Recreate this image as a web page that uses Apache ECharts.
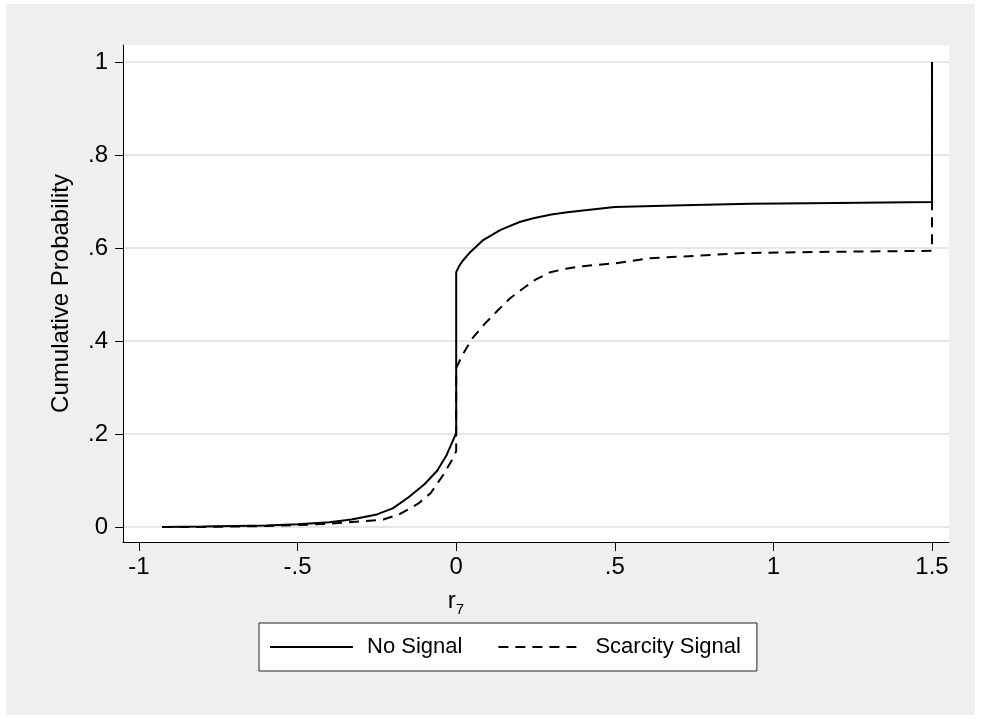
<!DOCTYPE html>
<html>
<head>
<meta charset="utf-8">
<script src="https://cdn.jsdelivr.net/npm/echarts@6/dist/echarts.min.js"></script>
<style>
  body { margin: 0; background: #ffffff; }
  #frame { position: absolute; left: 6px; top: 4px; width: 969px; height: 711px; background: #efefef; }
  #chart { position: absolute; left: 0; top: 0; width: 981px; height: 719px; }
</style>
</head>
<body>
<div id="frame"></div>
<div id="chart"></div>
<script>
// cumulative distribution
var noSignalX = [-0.927, -0.8, -0.7, -0.6, -0.5, -0.4, -0.33, -0.25, -0.2, -0.15, -0.1, -0.06, -0.03, 0, 0,
    0.01, 0.02, 0.044, 0.085, 0.14, 0.2, 0.243, 0.3, 0.35, 0.5, 0.716, 0.927, 1.2, 1.5, 1.5];
var noSignalY = [0, 0.001, 0.002, 0.003, 0.006, 0.01, 0.016, 0.027, 0.04, 0.064, 0.092, 0.121, 0.155, 0.202, 0.548,
    0.562, 0.572, 0.591, 0.617, 0.639, 0.656, 0.664, 0.672, 0.677, 0.688, 0.692, 0.695, 0.697, 0.699, 1.0];

var scarcityX = [-0.927, -0.8, -0.7, -0.6, -0.5, -0.4, -0.3, -0.23, -0.18, -0.12, -0.08, -0.04, -0.013, 0, 0,
    0.02, 0.05, 0.09, 0.13, 0.17, 0.213, 0.25, 0.297, 0.35, 0.4, 0.5, 0.61, 0.75, 0.905, 1.2, 1.5, 1.5];
var scarcityY = [0, 0, 0.001, 0.002, 0.004, 0.007, 0.012, 0.016, 0.027, 0.05, 0.073, 0.113, 0.144, 0.163, 0.342,
    0.37, 0.405, 0.437, 0.465, 0.492, 0.514, 0.532, 0.548, 0.556, 0.561, 0.567, 0.578, 0.583, 0.589, 0.592, 0.594, 1.0];

var xTicks = [-1, -0.5, 0, 0.5, 1, 1.5];
var yTicks = [0, 0.2, 0.4, 0.6, 0.8, 1];

var font = 'Arial, "Liberation Sans", sans-serif';

function pairs(xs, ys) {
    var out = [];
    for (var i = 0; i < xs.length; i++) {
        out.push([xs[i], ys[i]]);
    }
    return out;
}

// stata style labels: .5 instead of 0.5
function stataLabel(v) {
    return String(v).replace('0.', '.');
}

var chart = echarts.init(document.getElementById('chart'));

var option = {
    backgroundColor: 'transparent',
    animation: false,
    textStyle: { fontFamily: font },
    grid: {
        left: 123, top: 45, right: 32, bottom: 177,
        show: true, backgroundColor: '#ffffff', borderWidth: 0
    },
    legend: {
        left: 259, top: 623,
        data: ['No Signal', 'Scarcity Signal'],
        itemWidth: 83, itemHeight: 20, itemGap: 35,
        padding: [13, 16, 13, 10],
        backgroundColor: '#ffffff',
        borderColor: '#222222', borderWidth: 1,
        itemStyle: { opacity: 0 },
        textStyle: { fontFamily: font, fontSize: 22, color: '#000', padding: [0, 0, 0, 9] }
    },
    xAxis: {
        type: 'value',
        min: -1.0504, max: 1.5536,
        name: '{r|r}{s|7}',
        nameLocation: 'middle',
        nameGap: 44,
        nameTextStyle: {
            padding: [0, 160, 0, 0],
            rich: {
                r: { fontFamily: font, fontSize: 24, color: '#000' },
                s: { fontFamily: font, fontSize: 15, color: '#000', padding: [16, 0, 0, 0] }
            }
        },
        axisLine: { onZero: false, lineStyle: { color: '#000', width: 1 } },
        axisTick: { customValues: xTicks, length: 9, lineStyle: { color: '#000' } },
        axisLabel: { customValues: xTicks, margin: 13, fontSize: 24, color: '#000', fontFamily: font, formatter: stataLabel },
        splitLine: { show: false }
    },
    yAxis: {
        type: 'value',
        min: -0.0323, max: 1.0366,
        name: 'Cumulative Probability',
        nameLocation: 'middle',
        nameGap: 50,
        nameTextStyle: { fontFamily: font, fontSize: 24, color: '#000' },
        axisLine: { show: true, onZero: false, lineStyle: { color: '#000', width: 1 } },
        axisTick: { show: true, customValues: yTicks, length: 8, lineStyle: { color: '#000' } },
        axisLabel: { customValues: yTicks, margin: 15, fontSize: 24, color: '#000', fontFamily: font, formatter: stataLabel },
        splitLine: { show: true, lineStyle: { color: '#e6e6e6', width: 2 } }
    },
    series: [
        {
            name: 'No Signal',
            type: 'line',
            data: pairs(noSignalX, noSignalY),
            showSymbol: false,
            symbol: 'none',
            lineStyle: { color: '#000', width: 2 },
            itemStyle: { color: '#000' },
            z: 3
        },
        {
            name: 'Scarcity Signal',
            type: 'line',
            data: pairs(scarcityX, scarcityY),
            showSymbol: false,
            symbol: 'none',
            lineStyle: { color: '#000', width: 2, type: [10, 7] },
            itemStyle: { color: '#000' },
            z: 2
        }
    ]
};

chart.setOption(option);
</script>
</body>
</html>
